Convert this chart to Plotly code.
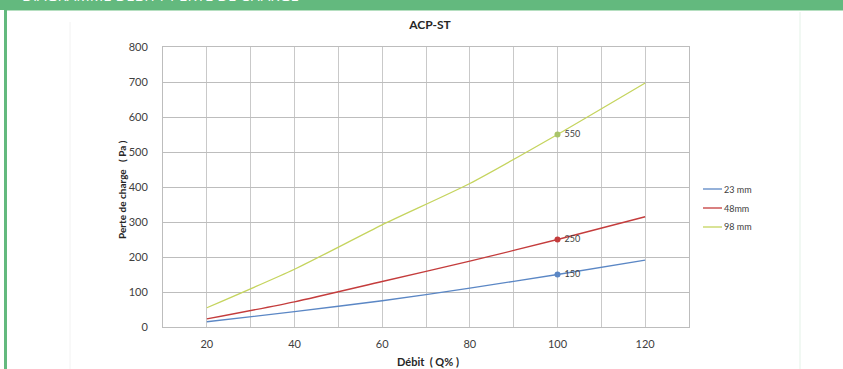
import plotly.graph_objects as go

# ---- data ----
debit = [20, 40, 60, 80, 100, 120]
s23 = [15, 44, 75, 111, 150, 191]
s48 = [23, 72, 130, 188, 250, 315]
s98 = [55, 165, 292, 410, 550, 697]
series_names = ["23 mm", "48mm", "98 mm"]
label_x = 100
label_vals = [150, 250, 550]

title = "ACP-ST"
x_title = "Débit  ( Q% )"
y_title = "Perte de charge   ( Pa )"
header_text = "DIAGRAMME DÉBIT / PERTE DE CHARGE"

W, H = 843, 369
L, R, T, B = 163, 154, 47, 42
PW, PH = W - L - R, H - T - B

def px2x(px):
    return (px - L) / PW

def px2y(py):
    return (H - B - py) / PH

FONT = "Lato, 'Open Sans', sans-serif"
line_colors = ["#5B87C5", "#C43C3C", "#C5D45E"]
marker_colors = ["#5B87C5", "#C43C3C", "#A9C46A"]

fig = go.Figure()
for name, vals, lc in zip(series_names, [s23, s48, s98], line_colors):
    fig.add_trace(go.Scatter(
        x=debit, y=vals, name=name, mode="lines",
        line=dict(color=lc, width=1.3, shape="spline", smoothing=0.6),
        showlegend=False,
    ))

for v, mc in zip(label_vals, marker_colors):
    fig.add_trace(go.Scatter(
        x=[label_x], y=[v], mode="markers+text", text=[" " + str(v)],
        textposition="middle right",
        textfont=dict(family=FONT, size=9, color="#404040"),
        marker=dict(color=mc, size=6), showlegend=False, hoverinfo="skip",
    ))

shapes = [
    # green header bar
    dict(type="rect", xref="paper", yref="paper", x0=px2x(0), x1=px2x(W),
         y0=px2y(10), y1=px2y(-2), fillcolor="#63B97E", line=dict(width=0), layer="below"),
    dict(type="line", xref="paper", yref="paper", x0=px2x(7), x1=px2x(W),
         y0=px2y(10.5), y1=px2y(10.5), line=dict(color="#B5DFC0", width=1)),
    # green left border
    dict(type="rect", xref="paper", yref="paper", x0=px2x(4), x1=px2x(7),
         y0=px2y(H + 2), y1=px2y(0), fillcolor="#63B97E", line=dict(width=0)),
    # faint chart-area edges
    dict(type="line", xref="paper", yref="paper", x0=px2x(70), x1=px2x(70),
         y0=px2y(H), y1=px2y(22), line=dict(color="#F2F2F2", width=1)),
    dict(type="line", xref="paper", yref="paper", x0=px2x(800), x1=px2x(800),
         y0=px2y(H), y1=px2y(12), line=dict(color="#E3F2E7", width=1)),
]

annotations = [
    dict(text=header_text, xref="paper", yref="paper", x=px2x(20), y=px2y(7),
         xanchor="left", yanchor="bottom", showarrow=False,
         font=dict(family="'Open Sans', sans-serif", size=15, color="white")),
    dict(text="<b>" + x_title + "</b>", xref="paper", yref="paper",
         x=px2x(428), y=px2y(361), xanchor="center", yanchor="middle", showarrow=False,
         font=dict(family=FONT, size=11, color="#262626")),
    dict(text="<b>" + y_title + "</b>", xref="paper", yref="paper", textangle=-90,
         x=px2x(122), y=px2y(190), xanchor="center", yanchor="middle", showarrow=False,
         font=dict(family=FONT, size=10, color="#262626")),
]

# custom legend (short line samples like the reference)
legend_y = [189, 208, 227]
for name, lc, ly in zip(series_names, line_colors, legend_y):
    shapes.append(dict(type="line", xref="paper", yref="paper",
                       x0=px2x(703), x1=px2x(722), y0=px2y(ly), y1=px2y(ly),
                       line=dict(color=lc, width=1.3)))
    annotations.append(dict(text=name, xref="paper", yref="paper",
                            x=px2x(722), y=px2y(ly), xanchor="left", yanchor="middle",
                            showarrow=False,
                            font=dict(family=FONT, size=9, color="#404040")))

fig.update_layout(
    width=W, height=H,
    margin=dict(l=L, r=R, t=T, b=B, autoexpand=False),
    paper_bgcolor="white", plot_bgcolor="white",
    font=dict(family=FONT, size=11, color="#404040"),
    title=dict(text="<b>" + title + "</b>", x=(430 / W), xanchor="center",
               y=1 - 25 / H, yanchor="middle",
               font=dict(family=FONT, size=12, color="#262626")),
    xaxis=dict(
        range=[10, 130], dtick=20, tick0=0, automargin=False,
        showgrid=True, gridcolor="#C9C9C9", gridwidth=1,
        minor=dict(dtick=10, tick0=0, showgrid=True, gridcolor="#C9C9C9", gridwidth=1),
        showline=True, linecolor="#BDBDBD", linewidth=1, mirror=True,
        ticks="outside", ticklen=7, tickcolor="rgba(0,0,0,0)",
        zeroline=False,
        tickfont=dict(family=FONT, size=11, color="#404040"),
    ),
    yaxis=dict(
        range=[0, 800], dtick=100, automargin=False,
        showgrid=True, gridcolor="#BDBDBD", gridwidth=1,
        showline=True, linecolor="#BDBDBD", linewidth=1, mirror=True,
        ticks="outside", ticklen=12, tickcolor="rgba(0,0,0,0)",
        zeroline=False,
        tickfont=dict(family=FONT, size=11, color="#404040"),
    ),
    shapes=shapes,
    annotations=annotations,
    showlegend=False,
)

fig.write_html("out.html", config={"displayModeBar": False},
               post_script="document.body.style.margin='0';document.body.style.overflow='hidden';")
